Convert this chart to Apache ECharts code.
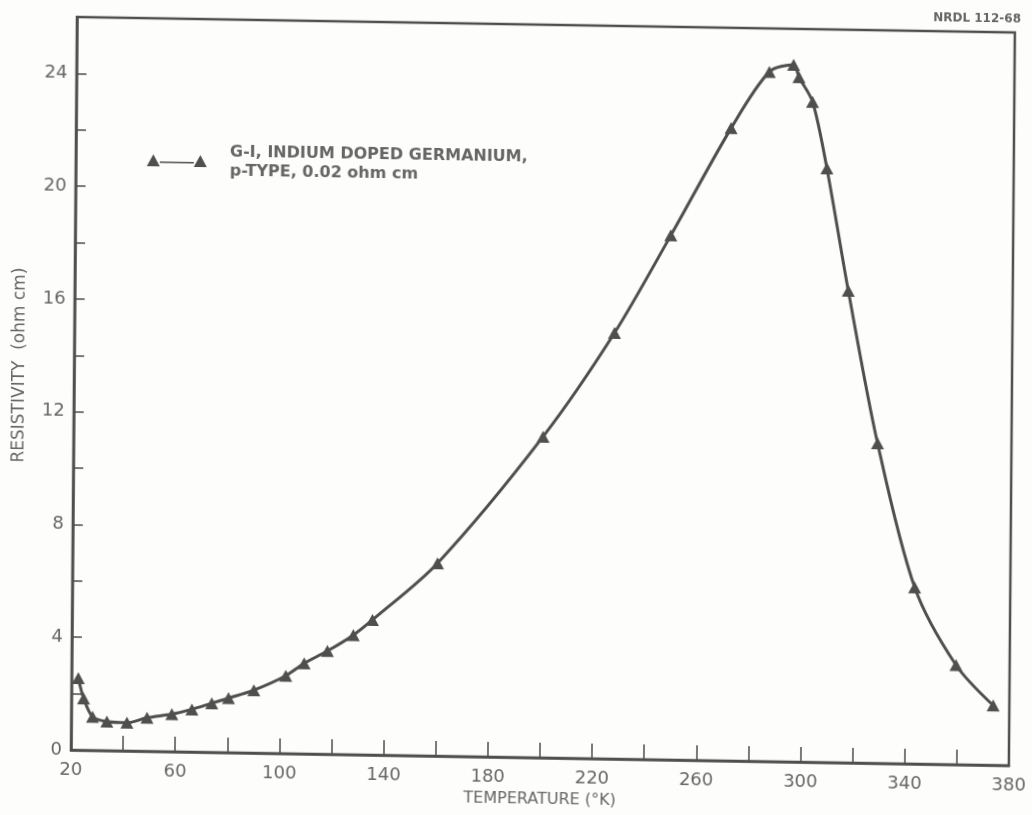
<!DOCTYPE html>
<html>
<head>
<meta charset="utf-8">
<script src="https://cdn.jsdelivr.net/npm/echarts@6/dist/echarts.min.js"></script>
<style>
  html, body { margin: 0; padding: 0; background: #fdfdfc; overflow: hidden; }
  /* the scanned original sits slightly skewed on the page, so the chart does too */
  #chart {
    width: 1032px;
    height: 840px;
    transform-origin: 0 0;
    transform: matrix(1, 0.0165, -0.0082, 1, 6.3, -21.16);
  }
</style>
</head>
<body>
<div id="chart"></div>
<script>
// temperature (°K)
const temperature = [22.6, 24.7, 28.2, 33.7, 41.4, 49.1, 58.6, 66.3, 73.9, 80.3, 90.0, 102.2, 109.2, 118.1, 128.0, 135.3, 160.1, 200.2, 227.3, 248.6, 271.4, 285.9, 295.2, 297.3, 302.6, 308.3, 316.9, 328.6, 343.3, 359.4, 373.8]
// resistivity (ohm cm)
const resistivity = [2.55, 1.84, 1.19, 1.03, 1.00, 1.19, 1.33, 1.51, 1.74, 1.93, 2.23, 2.76, 3.21, 3.66, 4.24, 4.79, 6.84, 11.39, 15.11, 18.60, 22.44, 24.46, 24.72, 24.29, 23.42, 21.07, 16.74, 11.35, 6.26, 3.53, 2.12]
const xLabelStep = 40
const yLabelStep = 4
const seriesName = 'G-I, INDIUM DOPED GERMANIUM,\np-TYPE, 0.02 ohm cm'

const ink = '#4f4f4f'
const textInk = '#666'
const font = '"DejaVu Sans", "Liberation Sans", sans-serif'

const points = temperature.map((t, i) => [t, resistivity[i]])

const option = {
  backgroundColor: '#fdfdfc',
  animation: false,
  title: {
    text: 'NRDL 112-68',
    right: 12,
    top: 13,
    textStyle: { color: textInk, fontSize: 12, fontWeight: 'bold', fontFamily: font }
  },
  legend: {
    left: 137,
    top: 151,
    orient: 'vertical',
    itemWidth: 60,
    itemHeight: 12,
    icon: 'path://M0,12L6.5,0L13,12Z M13,7L47,7L47,8.5L13,8.5Z M47,12L53.5,0L60,12Z',
    itemStyle: { color: ink },
    lineStyle: { width: 0 },
    textStyle: {
      color: textInk,
      fontSize: 16,
      fontWeight: 'bold',
      fontFamily: font,
      lineHeight: 19,
      padding: [0, 0, 8, 18]
    },
    data: [seriesName]
  },
  grid: {
    left: 70,
    right: 23,
    top: 37,
    bottom: 70,
    show: true,
    borderColor: ink,
    borderWidth: 2.5,
    backgroundColor: 'transparent'
  },
  xAxis: {
    type: 'value',
    min: 20,
    max: 380,
    interval: 20,
    name: 'TEMPERATURE (°K)',
    nameLocation: 'middle',
    nameGap: 34,
    nameTextStyle: { color: textInk, fontSize: 16, fontFamily: font },
    axisLine: { lineStyle: { color: ink, width: 2.5 } },
    axisTick: { inside: true, length: 15, lineStyle: { color: ink, width: 1.5 } },
    splitLine: { show: false },
    axisLabel: {
      color: textInk,
      fontSize: 18,
      fontFamily: font,
      margin: 11,
      formatter: v => ((v - 20) % xLabelStep === 0 ? String(v) : '')
    }
  },
  yAxis: {
    type: 'value',
    min: 0,
    max: 26,
    interval: 2,
    name: 'RESISTIVITY  (ohm cm)',
    nameLocation: 'middle',
    nameGap: 46,
    nameTextStyle: { color: textInk, fontSize: 17, fontFamily: font, padding: [0, 0, 0, 35] },
    axisLine: { lineStyle: { color: ink, width: 2.5 } },
    axisTick: { inside: true, length: 10, lineStyle: { color: ink, width: 1.5 } },
    splitLine: { show: false },
    axisLabel: {
      color: textInk,
      fontSize: 18,
      fontFamily: font,
      margin: 9,
      formatter: v => (v % yLabelStep === 0 && v <= 24 ? String(v) : '')
    }
  },
  series: [{
    name: seriesName,
    type: 'line',
    data: points,
    smooth: 0.3,
    symbol: 'triangle',
    symbolSize: [13, 12],
    itemStyle: { color: ink },
    lineStyle: { color: ink, width: 3 }
  }]
}

const myChart = echarts.init(document.getElementById('chart'))
myChart.setOption(option)
</script>
</body>
</html>
